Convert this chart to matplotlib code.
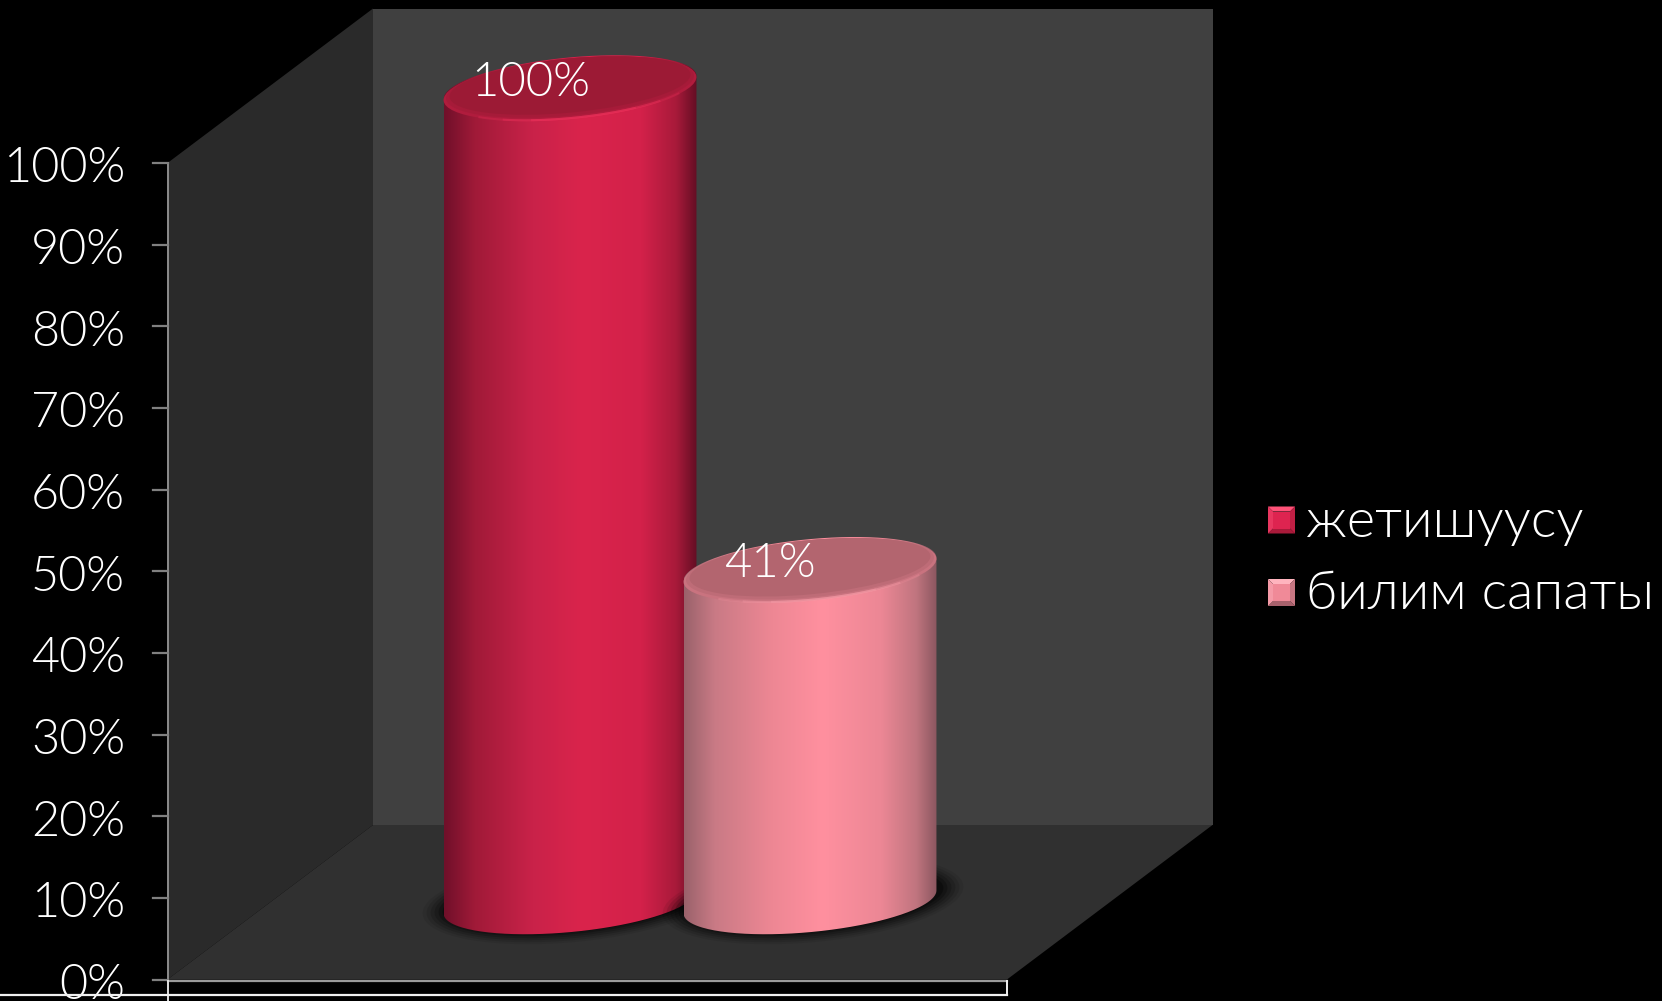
import numpy as np
import matplotlib
matplotlib.use('Agg')
import matplotlib.pyplot as plt
from matplotlib.patches import Polygon, Ellipse, PathPatch
from matplotlib.path import Path
from matplotlib.colors import LinearSegmentedColormap

plt.rcParams['font.family'] = ['Lato', 'Open Sans', 'DejaVu Sans']

# data
series = ['жетишуусу', 'билим сапаты']
values = [100, 41]
value_labels = ['100%', '41%']
ticks = [0, 10, 20, 30, 40, 50, 60, 70, 80, 90, 100]
tick_labels = ['%d%%' % t for t in ticks]

# picture geometry, in pixels
W, H = 1662, 1001
AX_X, AX_Y0, AX_Y100 = 167.5, 979.5, 163.0
DEPTH_X, DEPTH_Y = 205.5, 154.5
FRONT_W = 839.5
CYL_X = [570, 810]
CYL_BASE = 904
CYL_A, CYL_B, CYL_T = 127, 30, np.radians(5.5)

body_cols = [
    [(0, '#70102a'), (0.12, '#a01a38'), (0.35, '#c92249'), (0.55, '#da244c'),
     (0.78, '#d3214a'), (0.92, '#a81a3a'), (1, '#650e24')],
    [(0, '#9a626b'), (0.12, '#c97a85'), (0.35, '#ee8794'), (0.55, '#ff909f'),
     (0.78, '#ec8795'), (0.92, '#c0757f'), (1, '#8c5760')],
]
cap_cols = ['#9c1a35', '#b3656f']
rim_cols = ['#b01c3d', '#c9737f']
rim_mid = ['#a61b39', '#be6c77']
glow_cols = ['#f0325c', '#f79aa6']
legend_cols = [('#de2450', '#ff5278', '#a91a3a', '#c01f44', '#e8365f'),
               ('#f08a98', '#ffb4be', '#a8616c', '#c77682', '#f59aa7')]


def val_y(v):
    return AX_Y0 - (AX_Y0 - AX_Y100) * v / 100.0


def cyl_top(v):
    return CYL_BASE - (AX_Y0 - val_y(v))


def arc(cx, cy, a, b, t0, t1, n=120):
    t = np.linspace(t0, t1, n)
    x = cx + a * np.cos(t) * np.cos(CYL_T) + b * np.sin(t) * np.sin(CYL_T)
    y = cy - a * np.cos(t) * np.sin(CYL_T) + b * np.sin(t) * np.cos(CYL_T)
    return np.column_stack([x, y])


def draw_cylinder(ax, i, v):
    cx = CYL_X[i]
    top = cyl_top(v)
    base = CYL_BASE - 2
    for grow, alpha in [(24, 0.07), (20, 0.10), (16, 0.14), (12, 0.18), (8, 0.24), (4, 0.3)]:
        ax.add_patch(Ellipse((cx + 3, base - 2), 2 * (CYL_A + grow), 2 * (CYL_B + grow * 0.5),
                             angle=-5.5, fc='#000000', ec='none', alpha=alpha, zorder=3 + i))
    # extreme x of the tilted ellipse
    t_ext = np.arctan2(CYL_B * np.sin(CYL_T), CYL_A * np.cos(CYL_T))
    lower = arc(cx, base, CYL_A, CYL_B, t_ext, t_ext + np.pi)
    upper = arc(cx, top, CYL_A, CYL_B, t_ext + np.pi, t_ext + 2 * np.pi)
    outline = np.vstack([lower, upper, lower[:1]])
    clip = PathPatch(Path(outline), transform=ax.transData, fc='none', ec='none')
    ax.add_patch(clip)
    cmap = LinearSegmentedColormap.from_list('body%d' % i, body_cols[i])
    grad = np.linspace(0, 1, 256).reshape(1, -1)
    x0 = outline[:, 0].min()
    x1 = outline[:, 0].max()
    im = ax.imshow(grad, cmap=cmap, extent=[x0, x1, H, 0], aspect='auto', zorder=4 + i)
    im.set_clip_path(clip)
    # cap with a soft bevelled rim
    z = 4.2 + i
    ax.add_patch(Ellipse((cx, top + 1), 2 * CYL_A, 2 * CYL_B, angle=-5.5, fc=rim_cols[i], ec='none', zorder=z))
    ax.add_patch(Ellipse((cx, top - 0.5), 2 * CYL_A - 5, 2 * CYL_B - 3, angle=-5.5, fc=rim_mid[i], ec='none', zorder=z + .01))
    ax.add_patch(Ellipse((cx, top - 2), 2 * CYL_A - 12, 2 * CYL_B - 6, angle=-5.5, fc=cap_cols[i], ec='none', zorder=z + .02))
    for span, alpha in [((0.55, 2.4), 0.25), ((0.8, 2.15), 0.35), ((1.05, 1.9), 0.45)]:
        glow = arc(cx, top + 1, CYL_A - 1, CYL_B - 0.5, span[0], span[1])
        ax.plot(glow[:, 0], glow[:, 1], color=glow_cols[i], lw=1.5, alpha=alpha, zorder=z + .03)


fig = plt.figure(figsize=(W / 100.0, H / 100.0), dpi=100, facecolor='black')
ax = fig.add_axes([0, 0, 1, 1])
ax.set_xlim(0, W)
ax.set_ylim(H, 0)
ax.axis('off')

# walls
bx = AX_X + DEPTH_X
by0 = AX_Y0 - DEPTH_Y
ax.add_patch(Polygon([(bx, AX_Y100 - DEPTH_Y), (bx + FRONT_W, AX_Y100 - DEPTH_Y),
                      (bx + FRONT_W, by0), (bx, by0)], fc='#404040', ec='none', zorder=1))
ax.add_patch(Polygon([(AX_X, AX_Y100), (bx, AX_Y100 - DEPTH_Y), (bx, by0), (AX_X, AX_Y0)],
                     fc='#2a2a2a', ec='none', zorder=1))
ax.add_patch(Polygon([(AX_X, AX_Y0), (bx, by0), (bx + FRONT_W, by0), (AX_X + FRONT_W, AX_Y0)],
                     fc='#303030', ec='none', zorder=1))

# value axis
ax.plot([AX_X, AX_X], [val_y(100), val_y(0)], color='#8c8c8c', lw=1.4, zorder=2)
for t, lab in zip(ticks, tick_labels):
    ax.plot([AX_X - 15, AX_X], [val_y(t), val_y(t)], color='#808080', lw=1.6, zorder=2)
    ax.text(125, val_y(t) + 6, lab, color='white', fontsize=35, fontweight=300,
            ha='right', va='center', zorder=5)

for i, v in enumerate(values):
    draw_cylinder(ax, i, v)

# value labels
ax.text(CYL_X[0] - 39, cyl_top(values[0]) - 5, value_labels[0], color='white', fontsize=34, fontweight=300,
        ha='center', va='center', zorder=8)
ax.text(CYL_X[1] - 40, cyl_top(values[1]) - 5, value_labels[1], color='white', fontsize=34, fontweight=300,
        ha='center', va='center', zorder=8)

# category axis box at the bottom
ax.plot([AX_X, AX_X + FRONT_W], [981, 981], color='#9a9a9a', lw=1.6, zorder=6)
ax.plot([AX_X, AX_X], [981, H], color='#e0e0e0', lw=1.4, zorder=6)
ax.plot([AX_X + FRONT_W, AX_X + FRONT_W], [981, 995], color='#f0f0f0', lw=1.4, zorder=6)
ax.plot([0, AX_X + FRONT_W], [995, 995], color='#f0f0f0', lw=1.6, zorder=6)

# legend
for i, (name, cols) in enumerate(zip(series, legend_cols)):
    yc = 520 + i * 72.5
    x0, x1, y0, y1 = 1268, 1295, yc - 13.5, yc + 13.5
    b = 5
    ax.add_patch(Polygon([(x0, y0), (x1, y0), (x1 - b, y0 + b), (x0 + b, y0 + b)], fc=cols[1], ec='none', zorder=6))
    ax.add_patch(Polygon([(x0, y1), (x1, y1), (x1 - b, y1 - b), (x0 + b, y1 - b)], fc=cols[2], ec='none', zorder=6))
    ax.add_patch(Polygon([(x0, y0), (x0 + b, y0 + b), (x0 + b, y1 - b), (x0, y1)], fc=cols[4], ec='none', zorder=6))
    ax.add_patch(Polygon([(x1, y0), (x1 - b, y0 + b), (x1 - b, y1 - b), (x1, y1)], fc=cols[3], ec='none', zorder=6))
    ax.add_patch(Polygon([(x0 + b, y0 + b), (x1 - b, y0 + b), (x1 - b, y1 - b), (x0 + b, y1 - b)], fc=cols[0], ec='none', zorder=6))
    ax.text(1306, yc + 2, name, color='white', fontsize=39, fontweight=300, ha='left', va='center', zorder=6)

fig.savefig('out.png', dpi=100, facecolor='black')
